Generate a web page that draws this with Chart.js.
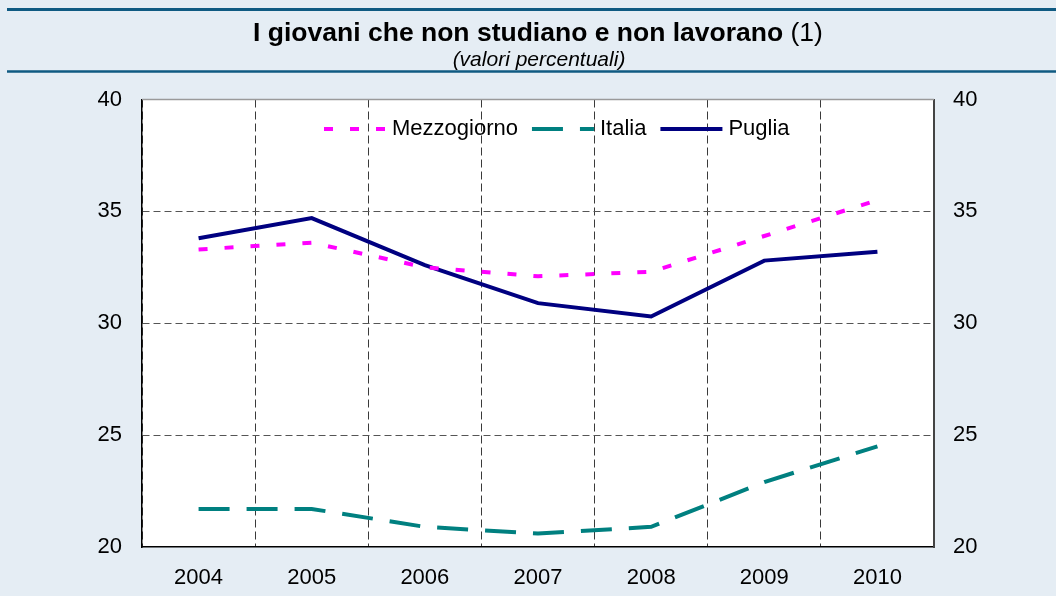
<!DOCTYPE html>
<html>
<head>
<meta charset="utf-8">
<script src="https://cdn.jsdelivr.net/npm/chart.js@4.4.1/dist/chart.umd.min.js"></script>
<style>
  html, body { margin: 0; padding: 0; background: #e5edf4; }
  canvas { display: block; }
</style>
</head>
<body>
<canvas id="myChart" width="1056" height="596"></canvas>
<script>
// Data
const years = ['2004', '2005', '2006', '2007', '2008', '2009', '2010'];
const mezzogiorno = [33.3, 33.6, 32.5, 32.1, 32.3, 33.9, 35.5];
const italia = [21.7, 21.7, 20.9, 20.6, 20.9, 22.9, 24.5];
const puglia = [33.8, 34.7, 32.6, 30.9, 30.3, 32.8, 33.2];
const yMin = 20;
const yMax = 40;
const yStep = 5;

const titleText = 'I giovani che non studiano e non lavorano ';
const titleNote = '(1)';
const subtitleText = '(valori percentuali)';

const FONT = '"Liberation Sans", Arial, sans-serif';

// background, header lines and title
const frameBackground = {
    id: 'frameBackground',
    beforeDraw(chart) {
        const ctx = chart.ctx;
        const area = chart.chartArea;
        ctx.save();
        ctx.fillStyle = '#e5edf4';
        ctx.fillRect(0, 0, chart.width, chart.height);
        ctx.fillStyle = '#ffffff';
        ctx.fillRect(area.left, area.top, area.right - area.left, area.bottom - area.top);

        ctx.strokeStyle = '#0f5a82';
        ctx.lineWidth = 3;
        ctx.beginPath();
        ctx.moveTo(7, 9.5);
        ctx.lineTo(chart.width, 9.5);
        ctx.stroke();
        ctx.lineWidth = 2.5;
        ctx.beginPath();
        ctx.moveTo(7, 71.5);
        ctx.lineTo(chart.width, 71.5);
        ctx.stroke();

        // title: bold part + normal note, centred together
        ctx.fillStyle = '#000';
        ctx.textBaseline = 'alphabetic';
        ctx.textAlign = 'left';
        ctx.font = 'bold 26.5px ' + FONT;
        const w1 = ctx.measureText(titleText).width;
        ctx.font = '26.5px ' + FONT;
        const w2 = ctx.measureText(titleNote).width;
        const x0 = 538 - (w1 + w2) / 2;
        ctx.font = 'bold 26.5px ' + FONT;
        ctx.fillText(titleText, x0, 40.5);
        ctx.font = '26.5px ' + FONT;
        ctx.fillText(titleNote, x0 + w1, 40.5);

        ctx.font = 'italic 21px ' + FONT;
        ctx.textAlign = 'center';
        ctx.fillText(subtitleText, 539, 66);
        ctx.restore();
    },
    afterDraw(chart) {
        // top edge of the plot
        const ctx = chart.ctx;
        const area = chart.chartArea;
        ctx.save();
        ctx.strokeStyle = '#9a9a9a';
        ctx.lineWidth = 1.5;
        ctx.beginPath();
        ctx.moveTo(area.left, area.top);
        ctx.lineTo(area.right, area.top);
        ctx.stroke();
        ctx.restore();
    }
};

// legend inside the plot, with line samples
const lineLegend = {
    id: 'lineLegend',
    afterDatasetsDraw(chart) {
        const ctx = chart.ctx;
        const y = chart.chartArea.top + 29.5;
        let x = 324;
        ctx.save();
        ctx.font = '22px ' + FONT;
        ctx.textBaseline = 'middle';
        ctx.textAlign = 'left';
        chart.data.datasets.forEach(ds => {
            ctx.strokeStyle = ds.borderColor;
            ctx.lineWidth = ds.borderWidth;
            ctx.setLineDash(ds.borderDash || []);
            ctx.lineCap = 'butt';
            ctx.beginPath();
            ctx.moveTo(x, y);
            ctx.lineTo(x + 62, y);
            ctx.stroke();
            ctx.setLineDash([]);
            ctx.fillStyle = '#000';
            ctx.fillText(ds.label, x + 68, y);
            x += 68 + ctx.measureText(ds.label).width + 14;
        });
        ctx.restore();
    }
};

document.addEventListener('DOMContentLoaded', () => {
    const ctx = document.getElementById('myChart').getContext('2d');

    const chart = new Chart(ctx, {
        type: 'line',
        data: {
            labels: years,
            datasets: [
                {
                    label: 'Mezzogiorno',
                    data: mezzogiorno,
                    borderColor: '#ff00ff',
                    borderWidth: 4,
                    borderDash: [9, 17],
                    pointRadius: 0,
                    tension: 0,
                    yAxisID: 'y'
                },
                {
                    label: 'Italia',
                    data: italia,
                    borderColor: '#008080',
                    borderWidth: 4,
                    borderDash: [31, 17],
                    pointRadius: 0,
                    tension: 0,
                    yAxisID: 'y'
                },
                {
                    label: 'Puglia',
                    data: puglia,
                    borderColor: '#000080',
                    borderWidth: 4,
                    pointRadius: 0,
                    tension: 0,
                    yAxisID: 'y'
                }
            ]
        },
        options: {
            responsive: false,
            animation: false,
            layout: { padding: { top: 99.5, left: 0, right: 0, bottom: 0 } },
            plugins: {
                legend: { display: false },
                title: { display: false },
                tooltip: { enabled: false }
            },
            scales: {
                x: {
                    offset: true,
                    grid: {
                        offset: true,
                        color: '#3a3a3a',
                        lineWidth: 1,
                        drawTicks: false
                    },
                    border: { display: true, color: '#000', width: 1.5, dash: [8, 4] },
                    ticks: {
                        color: '#000',
                        font: { family: FONT, size: 22 },
                        padding: 18,
                        maxRotation: 0
                    },
                    afterFit(scale) { scale.height = 49; }
                },
                y: {
                    position: 'left',
                    min: yMin,
                    max: yMax,
                    grid: {
                        color: c => (c.tick && (c.tick.value === yMin || c.tick.value === yMax)) ? 'rgba(0,0,0,0)' : '#555',
                        lineWidth: 1,
                        drawTicks: false
                    },
                    border: { display: true, color: '#000', width: 1.5, dash: [7, 4] },
                    ticks: {
                        stepSize: yStep,
                        color: '#000',
                        font: { family: FONT, size: 22 },
                        padding: 20
                    },
                    afterFit(scale) { scale.width = 142; }
                },
                y2: {
                    position: 'right',
                    display: true,
                    min: yMin,
                    max: yMax,
                    grid: { display: false, drawTicks: false },
                    border: { display: true, color: '#444', width: 2 },
                    ticks: {
                        stepSize: yStep,
                        color: '#000',
                        font: { family: FONT, size: 22 },
                        padding: 19
                    },
                    afterFit(scale) { scale.width = 122; }
                }
            }
        },
        plugins: [frameBackground, lineLegend]
    });
});
</script>
</body>
</html>
